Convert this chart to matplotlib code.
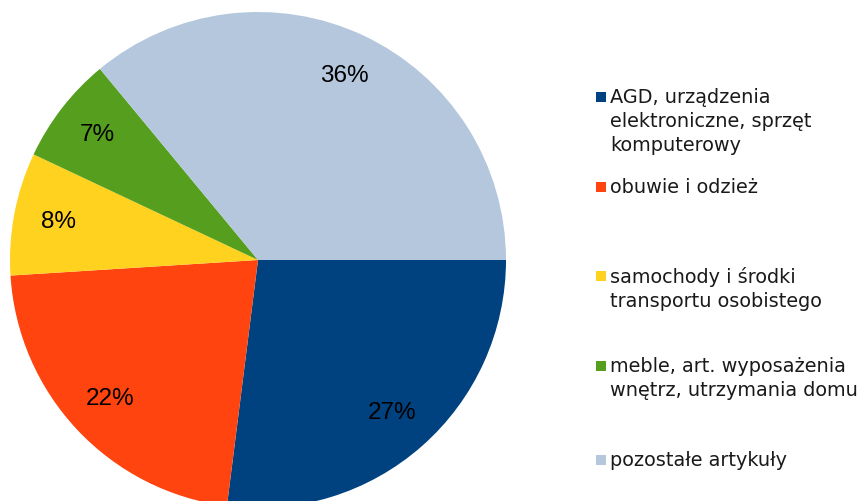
import matplotlib
matplotlib.use("Agg")
import matplotlib.pyplot as plt
from matplotlib.patches import Rectangle

categories = [
    "AGD, urządzenia\nelektroniczne, sprzęt\nkomputerowy",
    "obuwie i odzież",
    "samochody i środki\ntransportu osobistego",
    "meble, art. wyposażenia\nwnętrz, utrzymania domu",
    "pozostałe artykuły",
]
values = [27, 22, 8, 7, 36]
colors = ["#00427F", "#FF4410", "#FFD21F", "#559E1E", "#B5C7DD"]

W, H = 868, 501
fig = plt.figure(figsize=(W / 100, H / 100), dpi=100)
fig.patch.set_facecolor("white")

# pie axes: center (258,260) px from top, radius 248
cx, cy, r = 258, 260, 248
ax = fig.add_axes([(cx - r) / W, (H - cy - r) / H, 2 * r / W, 2 * r / H])
wedges, texts, autotexts = ax.pie(
    values, colors=colors, startangle=0, counterclock=False, radius=1,
    autopct=lambda p: f"{p:.0f}%", pctdistance=0.82,
    wedgeprops=dict(linewidth=0),
    textprops=dict(fontsize=17.5, family="Liberation Sans", color="black"),
)
ax.set_xlim(-1, 1)
ax.set_ylim(-1, 1)
ax.set_aspect("equal")
ax.axis("off")

# legend drawn manually for exact spacing
entry_tops = [97, 187, 276, 366, 460]  # y (px from top) of first line centre
for lab, col, yt in zip(categories, colors, entry_tops):
    fig.patches.append(Rectangle((596 / W, (H - yt - 5) / H), 10 / W, 10 / H,
                                 transform=fig.transFigure, facecolor=col,
                                 edgecolor="none"))
    fig.text(610 / W, (H - yt + 9) / H, lab, fontsize=13.9, family="DejaVu Sans",
             va="top", ha="left", color="#1a1a1a", linespacing=1.32,
             transform=fig.transFigure)
fig.savefig("out.png", dpi=100)
